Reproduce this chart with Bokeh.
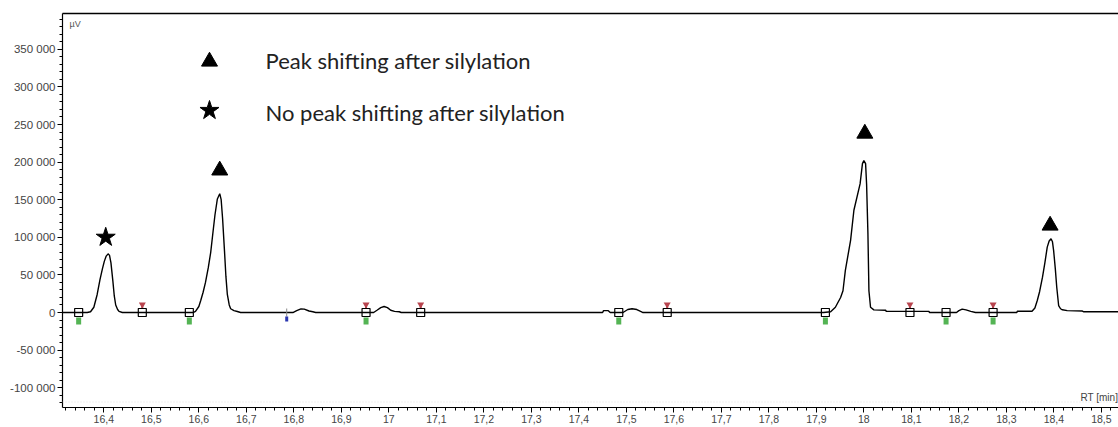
import numpy as np
from bokeh.plotting import figure
from bokeh.models import Range1d, LinearAxis, FixedTicker, Label, Span
from bokeh.embed import file_html
from bokeh.resources import INLINE

# ---------------- data ----------------
rt_trace = [16.313, 16.365, 16.372, 16.379, 16.386, 16.392, 16.397, 16.401, 16.405, 16.409,
            16.412, 16.415, 16.419, 16.422, 16.425, 16.429, 16.432, 16.439,
            16.588, 16.593, 16.600, 16.604, 16.609, 16.614, 16.620, 16.625, 16.630, 16.634,
            16.639, 16.644, 16.647, 16.650, 16.654, 16.657, 16.660, 16.664, 16.667, 16.674,
            16.681, 16.688,
            16.798, 16.806, 16.815, 16.822, 16.832, 16.840, 16.846,
            16.968, 16.975, 16.983, 16.990, 16.997, 17.004, 17.012, 17.022, 17.026,
            17.450, 17.452, 17.462, 17.466,
            17.493, 17.503, 17.512, 17.522, 17.530, 17.535,
            17.915, 17.930, 17.940, 17.951, 17.956, 17.961, 17.972, 17.979, 17.992, 17.997,
            18.000, 18.0036, 18.0057, 18.0085, 18.0106, 18.014, 18.021, 18.046, 18.047,
            18.137, 18.138,
            18.195, 18.200, 18.207, 18.215, 18.225, 18.235,
            18.322, 18.323, 18.354, 18.360, 18.365, 18.370, 18.376, 18.381, 18.386, 18.390,
            18.394, 18.397, 18.3995, 18.403, 18.406, 18.410, 18.414, 18.418, 18.428, 18.460,
            18.463, 18.536]
signal_trace = [0, 0, 1000, 7000, 24000, 44000, 58000, 68000, 75000, 78000,
                76000, 66000, 42000, 22000, 10000, 4000, 1500, 0,
                0, 1500, 8000, 16000, 27000, 40000, 60000, 80000, 108000, 130000,
                151000, 158000, 150000, 125000, 82000, 48000, 24000, 10000, 5000, 2500,
                1300, 0,
                0, 2500, 4800, 4500, 2000, 1000, 0,
                0, 3000, 6500, 8000, 6500, 3000, 1500, 1000, 0,
                0, 2500, 2500, 0,
                0, 4000, 5000, 4000, 1500, 0,
                0, 1000, 7000, 20000, 29000, 56000, 96000, 136000, 171000, 198000,
                202000, 198000, 171000, 105000, 29000, 7000, 3500, 3000, 1500,
                1500, 0,
                0, 2500, 4500, 3500, 1500, 0,
                0, 1700, 1700, 6000, 16000, 28000, 47000, 66000, 87000, 95000,
                98000, 94000, 82000, 58000, 33600, 9300, 5000, 3600, 2500, 2000,
                1000, 1000]

baseline_box_rt = [16.347, 16.481, 16.580, 16.952, 17.067, 17.484, 17.586, 17.919, 18.097, 18.173, 18.272]
peak_start_rt = [16.347, 16.580, 16.952, 17.484, 17.919, 18.173, 18.272]
peak_end_rt = [16.481, 16.952, 17.067, 17.586, 18.097, 18.272]
split_rt = [16.785]

shift_rt = [16.644, 18.002, 18.392]
shift_y = [189000, 238000, 115700]
noshift_rt = [16.404]
noshift_y = [100000]

legend_texts = ["Peak shifting after silylation", "No peak shifting after silylation"]

x_ticks = [16.4, 16.5, 16.6, 16.7, 16.8, 16.9, 17.0, 17.1, 17.2, 17.3, 17.4,
           17.5, 17.6, 17.7, 17.8, 17.9, 18.0, 18.1, 18.2, 18.3, 18.4, 18.5]
x_tick_labels = ["16,4", "16,5", "16,6", "16,7", "16,8", "16,9", "17", "17,1", "17,2", "17,3", "17,4",
                 "17,5", "17,6", "17,7", "17,8", "17,9", "18", "18,1", "18,2", "18,3", "18,4", "18,5"]
y_ticks = [-100000, -50000, 0, 50000, 100000, 150000, 200000, 250000, 300000, 350000]
y_tick_labels = ["-100 000", "-50 000", "0", "50 000", "100 000", "150 000",
                 "200 000", "250 000", "300 000", "350 000"]

# ---------------- layout ----------------
W, H = 1118, 427
FL, FT, FB = 62, 13, 20
FW, FH = W - FL, H - FT - FB
X0, X1 = 16.313, 18.536
Y0, Y1 = -126300, 397600
PXY = (Y1 - Y0) / FH


def dx(px):
    return X0 + (px - FL) / FW * (X1 - X0)


def dy(py):
    return Y1 - (py - FT) / FH * (Y1 - Y0)


p = figure(width=W, height=H, output_backend="svg", toolbar_location=None,
           x_range=Range1d(X0, X1), y_range=Range1d(Y0, Y1),
           x_axis_type=None, y_axis_type=None,
           min_border_left=FL, min_border_right=0, min_border_top=FT, min_border_bottom=FB)
p.outline_line_color = None
p.grid.visible = False
p.background_fill_color = "white"
p.border_fill_color = "white"

x_minor = [float(v) for v in np.round(np.arange(16.32, 18.54, 0.02), 2)]
xaxis = LinearAxis(ticker=FixedTicker(ticks=x_ticks, minor_ticks=x_minor))
xaxis.major_label_overrides = {t: l for t, l in zip(x_ticks, x_tick_labels)}
y_minor = [float(v) for v in np.arange(-120000, 397000, 10000)]
yaxis = LinearAxis(ticker=FixedTicker(ticks=y_ticks, minor_ticks=y_minor))
yaxis.major_label_overrides = {t: l for t, l in zip(y_ticks, y_tick_labels)}

for ax, fs in ((xaxis, "10.5px"), (yaxis, "11.5px")):
    ax.axis_line_color = "black"
    ax.axis_line_width = 1.2
    ax.major_tick_line_color = "black"
    ax.minor_tick_line_color = "black"
    ax.major_tick_in = 0
    ax.minor_tick_in = 0
    ax.major_tick_out = 5
    ax.minor_tick_out = 3
    ax.major_label_text_font = "Liberation Sans"
    ax.major_label_text_font_size = fs
    ax.major_label_text_color = "#444444"
    ax.major_label_standoff = 2
p.add_layout(xaxis, "below")
p.add_layout(yaxis, "left")

top = LinearAxis(ticker=FixedTicker(ticks=[]), major_label_text_font_size="0px",
                 major_tick_out=0, minor_tick_out=0, axis_line_color="black", axis_line_width=1.4)
p.add_layout(top, "above")

p.add_layout(Span(location=dy(401.5), dimension="width", line_color="#e2e2e2",
                  line_dash="1 2", line_width=1))

# chromatogram trace
p.line(rt_trace, signal_trace, line_color="black", line_width=1.4)

# integration marks
p.segment(x0=split_rt, y0=[4 * PXY], x1=split_rt, y1=[-4 * PXY], line_color="#888888", line_width=1)
p.rect(x=split_rt, y=[-6.5 * PXY], width=3, height=5, width_units="screen", height_units="screen",
       fill_color="#2a36b0", line_color=None)
p.rect(x=peak_start_rt, y=[-8.5 * PXY] * len(peak_start_rt), width=5, height=7,
       width_units="screen", height_units="screen", fill_color="#54b454", line_color=None)
p.rect(x=peak_end_rt, y=[6.0 * PXY] * len(peak_end_rt), width=2, height=4,
       width_units="screen", height_units="screen", fill_color="#b8454f", line_color=None)
p.scatter(x=peak_end_rt, y=[8.0 * PXY] * len(peak_end_rt), marker="inverted_triangle", size=7,
          fill_color="#b8454f", line_color=None)
p.scatter(x=baseline_box_rt, y=[0] * len(baseline_box_rt), marker="square", size=8,
          fill_color=None, line_color="black", line_width=1.2)

# peak annotations
p.scatter(x=shift_rt, y=shift_y, marker="triangle", size=16, fill_color="black", line_color="black")
p.scatter(x=noshift_rt, y=noshift_y, marker="star", size=20, fill_color="black", line_color="black")

# legend
p.scatter(x=[dx(209)], y=[dy(61)], marker="triangle", size=16, fill_color="black", line_color="black")
p.scatter(x=[dx(209)], y=[dy(110)], marker="star", size=20, fill_color="black", line_color="black")
for txt, py in zip(legend_texts, (60, 112)):
    p.add_layout(Label(x=dx(265), y=dy(py), text=txt, text_font="Lato", text_font_size="22px",
                       text_baseline="middle", text_align="left", text_color="#222222"))

p.add_layout(Label(x=dx(69), y=dy(23), text="µV", text_font="Liberation Sans", text_font_size="9px",
                   text_baseline="middle", text_color="#555555"))
p.add_layout(Label(x=dx(1080), y=dy(397), text="RT [min]", text_font="Liberation Sans",
                   text_font_size="10px", text_baseline="middle", text_color="#444444"))

open("out.html", "w").write(file_html(p, INLINE))
